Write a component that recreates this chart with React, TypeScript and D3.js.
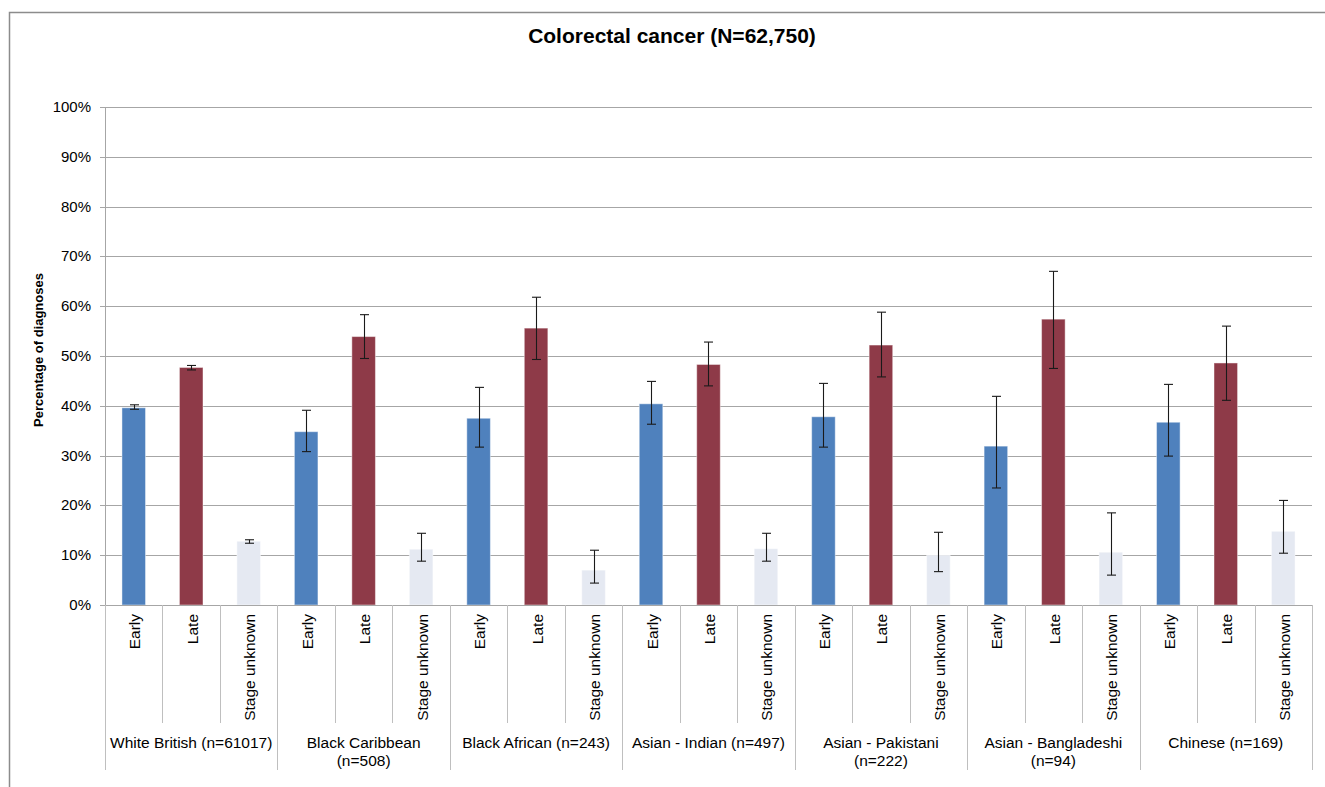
import React from "react";
import * as d3 from "d3";

const groups = [
  "White British (n=61017)",
  "Black Caribbean|(n=508)",
  "Black African (n=243)",
  "Asian - Indian (n=497)",
  "Asian - Pakistani|(n=222)",
  "Asian - Bangladeshi|(n=94)",
  "Chinese (n=169)",
];
const stages = ["Early", "Late", "Stage unknown"];

// percentages per group
const early = [39.6, 34.8, 37.5, 40.4, 37.8, 31.9, 36.7];
const earlyLow = [39.3, 30.8, 31.7, 36.3, 31.7, 23.5, 29.9];
const earlyHigh = [40.2, 39.1, 43.7, 44.9, 44.5, 41.9, 44.3];

const late = [47.7, 53.9, 55.6, 48.3, 52.2, 57.4, 48.6];
const lateLow = [47.2, 49.5, 49.3, 44.0, 45.8, 47.5, 41.1];
const lateHigh = [48.1, 58.3, 61.8, 52.8, 58.8, 67.0, 56.0];

const unknown = [12.8, 11.2, 7.0, 11.3, 10.0, 10.6, 14.8];
const unknownLow = [12.4, 8.8, 4.4, 8.8, 6.7, 6.0, 10.4];
const unknownHigh = [13.1, 14.4, 11.0, 14.4, 14.6, 18.5, 21.0];

const yTicks = [0, 10, 20, 30, 40, 50, 60, 70, 80, 90, 100];

const colors = ["#4f81bd", "#8e3a48", "#e5e9f2"];

export default function App() {
  const W = 1325;
  const H = 787;
  const left = 105;
  const right = 1312;
  const top = 107;
  const bottom = 605;

  const y = d3.scaleLinear().domain([0, 100]).range([bottom, top]);
  const x0 = d3.scaleBand().domain(groups).range([left, right]);
  const x1 = d3.scaleBand().domain(stages).range([0, x0.bandwidth()]);
  const barW = x1.bandwidth() * 0.41;

  const series = [
    { v: early, lo: earlyLow, hi: earlyHigh },
    { v: late, lo: lateLow, hi: lateHigh },
    { v: unknown, lo: unknownLow, hi: unknownHigh },
  ];

  const font = "'Liberation Sans', Arial, sans-serif";

  return (
    <svg
      width={W}
      height={H}
      style={{ position: "absolute", left: 0, top: 0, background: "#fff" }}
      fontFamily={font}
    >
      <rect x={9.5} y={12.5} width={1340} height={800} fill="#fff" stroke="#8c8c8c" strokeWidth={1.5} />

      <text x={672} y={43} textAnchor="middle" fontSize={21} fontWeight="bold" fill="#000">
        Colorectal cancer (N=62,750)
      </text>

      {/* gridlines */}
      {yTicks.map((t) => (
        <g key={t}>
          {t > 0 && (
            <line x1={left} x2={right} y1={Math.round(y(t)) + 0.5} y2={Math.round(y(t)) + 0.5} stroke="#a6a6a6" />
          )}
          <line x1={left - 5} x2={left} y1={Math.round(y(t)) + 0.5} y2={Math.round(y(t)) + 0.5} stroke="#a6a6a6" />
          <text x={91} y={y(t) + 5} textAnchor="end" fontSize={15} fill="#000">
            {t}%
          </text>
        </g>
      ))}

      <text
        transform={`translate(43,350) rotate(-90)`}
        textAnchor="middle"
        fontSize={13}
        fontWeight="bold"
        fill="#000"
      >
        Percentage of diagnoses
      </text>

      {/* bars */}
      {groups.map((g, gi) =>
        stages.map((s, si) => {
          const cx = (x0(g) as number) + (x1(s) as number) + x1.bandwidth() / 2;
          const d = series[si];
          const yv = y(d.v[gi]);
          return (
            <g key={g + s}>
              <rect
                x={cx - barW / 2}
                y={yv}
                width={barW}
                height={bottom - yv}
                fill={colors[si]}
                stroke="#ffffff"
                strokeOpacity={0.45}
                strokeWidth={1}
              />
            </g>
          );
        })
      )}

      {/* axes */}
      <line x1={left + 0.5} x2={left + 0.5} y1={top} y2={bottom} stroke="#a6a6a6" />
      <line x1={left} x2={right} y1={bottom + 0.5} y2={bottom + 0.5} stroke="#a6a6a6" />

      {/* error bars */}
      {groups.map((g, gi) =>
        stages.map((s, si) => {
          const cx = Math.round((x0(g) as number) + (x1(s) as number) + x1.bandwidth() / 2) + 0.5;
          const d = series[si];
          const yl = y(d.lo[gi]);
          const yh = y(d.hi[gi]);
          return (
            <g key={"e" + g + s} stroke="#1a1a1a" strokeWidth={1.1}>
              <line x1={cx} x2={cx} y1={yh} y2={yl} />
              <line x1={cx - 4.5} x2={cx + 4.5} y1={yh} y2={yh} />
              <line x1={cx - 4.5} x2={cx + 4.5} y1={yl} y2={yl} />
            </g>
          );
        })
      )}

      {/* category axis labels */}
      {groups.map((g, gi) => {
        const gx = x0(g) as number;
        const lines = g.split("|");
        return (
          <g key={"l" + g}>
            {stages.map((s, si) => {
              const sx = gx + (x1(s) as number);
              const cx = sx + x1.bandwidth() / 2;
              return (
                <g key={s}>
                  {si > 0 && (
                    <line x1={Math.round(sx) + 0.5} x2={Math.round(sx) + 0.5} y1={bottom} y2={723} stroke="#bfbfbf" />
                  )}
                  <text
                    transform={`translate(${cx + 1},614) rotate(-90)`}
                    textAnchor="end"
                    dominantBaseline="central"
                    fontSize={15.5}
                    fill="#000"
                  >
                    {s}
                  </text>
                </g>
              );
            })}
            <line x1={Math.round(gx) + 0.5} x2={Math.round(gx) + 0.5} y1={bottom} y2={770} stroke="#bfbfbf" />
            {gi === groups.length - 1 && (
              <line
                x1={Math.round(gx + x0.bandwidth()) + 0.5}
                x2={Math.round(gx + x0.bandwidth()) + 0.5}
                y1={bottom}
                y2={770}
                stroke="#bfbfbf"
              />
            )}
            {lines.map((ln, li) => (
              <text
                key={li}
                x={gx + x0.bandwidth() / 2}
                y={748 + li * 18}
                textAnchor="middle"
                fontSize={15.5}
                fill="#000"
              >
                {ln}
              </text>
            ))}
          </g>
        );
      })}
    </svg>
  );
}
